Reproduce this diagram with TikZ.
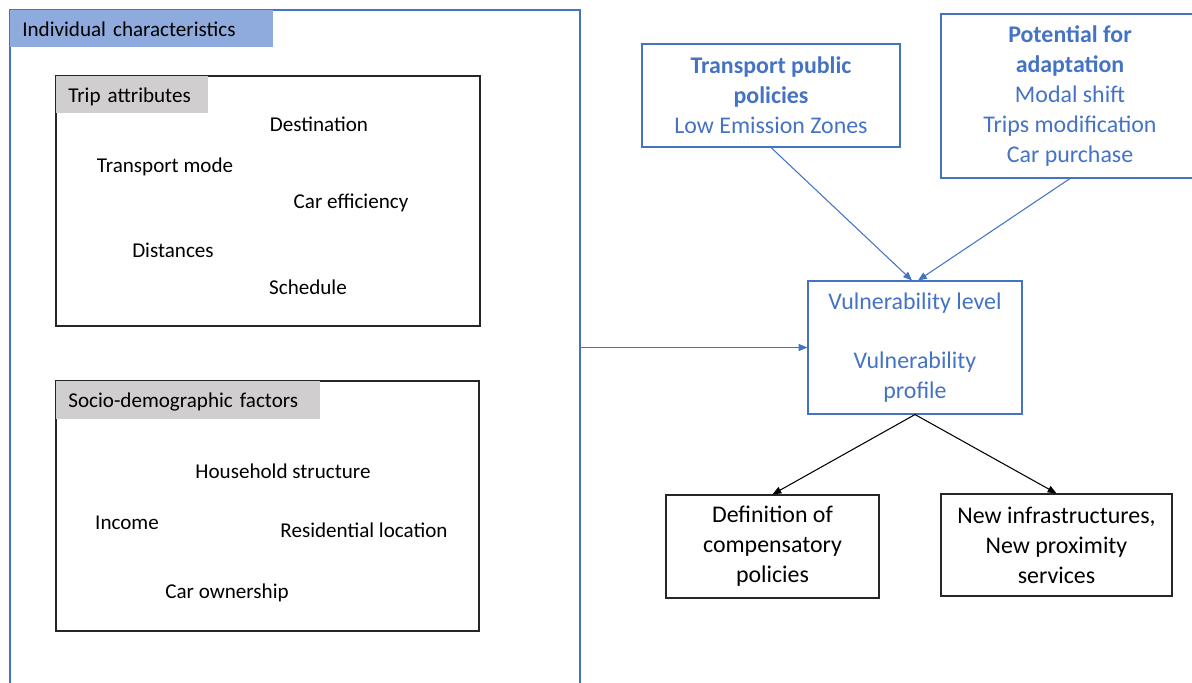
\documentclass[tikz,border=0pt]{standalone}
\usepackage{fontspec}
\setmainfont{Carlito}
\usetikzlibrary{arrows.meta}
\definecolor{boxblue}{HTML}{4472C4}
\definecolor{headblue}{HTML}{8FAADC}
\definecolor{headgray}{HTML}{D0CECE}
\begin{document}
\begin{tikzpicture}[
  every node/.style={font=\fontsize{12}{14.5}\selectfont},
  blackbox/.style={draw=black!85, line width=0.7pt, inner sep=0pt},
  bluebox/.style={draw=boxblue, line width=0.6pt, inner sep=0pt},
  bigtext/.style={align=center, font=\fontsize{13.6}{17}\selectfont, execute at begin node={\rule{0pt}{12pt}}},
  headbar/.style={anchor=north west, inner ysep=0pt, inner xsep=0.24cm, align=left, text depth=0pt},
  bluearrow/.style={boxblue, line width=0.6pt, -{Triangle[length=5pt,width=4pt]}},
  blackarrow/.style={black, line width=0.6pt, -{Triangle[length=5pt,width=4pt]}}]
\useasboundingbox (0,0) rectangle (23.84,-13.64);

\node[bluebox, minimum width=11.4cm, minimum height=13.8cm] (indiv) at (5.9,-7.1) {};
\node[headbar, fill=headblue, text width=4.78cm, minimum height=0.74cm] (indivhead) at ([shift={(0.3pt,-0.3pt)}]indiv.north west) {Individual characteristics};

\node[blackbox, minimum width=8.48cm, minimum height=5cm] (trip) at (5.36,-4.02) {};
\node[headbar, fill=headgray, text width=2.56cm, minimum height=0.74cm] (triphead) at ([shift={(0.35pt,-0.35pt)}]trip.north west) {Trip attributes};
\node (dest) at (6.38,-2.49) {Destination};
\node (mode) at (3.30,-3.34) {Transport mode};
\node (eff) at (7.02,-4.06) {Car efficiency};
\node (dist) at (3.46,-5.01) {Distances};
\node (sched) at (6.16,-5.75) {Schedule};

\node[blackbox, minimum width=8.46cm, minimum height=5cm] (socio) at (5.35,-10.12) {};
\node[headbar, fill=headgray, text width=4.80cm, minimum height=0.76cm] (sociohead) at ([shift={(0.35pt,-0.35pt)}]socio.north west) {Socio-demographic factors};
\node (house) at (5.66,-9.43) {Household structure};
\node (income) at (2.54,-10.45) {Income};
\node (resid) at (7.28,-10.61) {Residential location};
\node (carown) at (4.54,-11.86) {Car ownership};

\node[bluebox, bigtext, text=boxblue, minimum width=5.16cm, minimum height=2.06cm] (policy) at (15.42,-1.91) {\textbf{Transport public}\\\textbf{policies}\\Low Emission Zones};
\node[bluebox, bigtext, text=boxblue, minimum width=5.16cm, minimum height=3.28cm] (adapt) at (21.40,-1.92) {\textbf{Potential for}\\\textbf{adaptation}\\Modal shift\\Trips modification\\Car purchase};
\node[bluebox, bigtext, text=boxblue, minimum width=4.28cm, minimum height=2.66cm] (vuln) at (18.30,-6.95) {Vulnerability level\\[17pt]Vulnerability\\profile};
\node[blackbox, bigtext, minimum width=4.26cm, minimum height=2.06cm] (comp) at (15.45,-10.93) {Definition of\\compensatory\\policies};
\node[blackbox, bigtext, minimum width=4.62cm, minimum height=2.04cm] (infra) at (21.13,-10.90) {New infrastructures,\\New proximity\\services};

\draw[bluearrow] (indiv.east |- vuln.west) -- (vuln.west);
\draw[bluearrow] (policy.south) -- ([xshift=-0.06cm]vuln.north);
\draw[bluearrow] (adapt.south) -- ([xshift=0.06cm]vuln.north);
\draw[blackarrow] (vuln.south) -- (comp.north);
\draw[blackarrow] (vuln.south) -- (infra.north);
\end{tikzpicture}
\end{document}
